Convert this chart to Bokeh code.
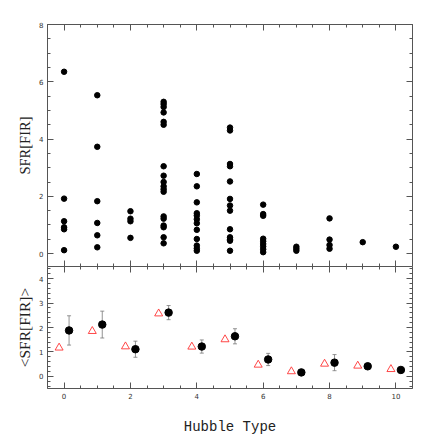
from bokeh.plotting import figure
from bokeh.layouts import column
from bokeh.models import LinearAxis, ColumnDataSource, Whisker, TeeHead, FixedTicker, Range1d
from bokeh.transform import dodge
from bokeh.embed import file_html
from bokeh.resources import INLINE

# ---- top panel data: SFR[FIR] of individual galaxies per Hubble type ----
sfr_type0 = [6.35, 1.92, 1.13, 0.92, 0.85, 0.12]
sfr_type1 = [5.53, 3.73, 1.83, 1.07, 0.64, 0.22]
sfr_type2 = [1.48, 1.22, 1.13, 0.55]
sfr_type3 = [5.30, 5.22, 5.12, 4.93, 4.60, 4.50, 3.05, 2.72, 2.50, 2.35, 2.25, 2.16,
             1.30, 1.22, 0.98, 0.92, 0.57, 0.36]
sfr_type4 = [2.78, 2.35, 1.79, 1.41, 1.33, 1.20, 1.06, 0.83, 0.51, 0.28, 0.18, 0.10]
sfr_type5 = [4.40, 4.30, 3.13, 3.05, 2.52, 1.91, 1.68, 1.50, 0.85, 0.57, 0.50, 0.45, 0.10]
sfr_type6 = [1.71, 1.38, 1.32, 0.52, 0.43, 0.34, 0.25, 0.15, 0.05]
sfr_type7 = [0.24, 0.17, 0.10]
sfr_type8 = [1.23, 0.49, 0.30, 0.17]
sfr_type9 = [0.40]
sfr_type10 = [0.24]

# ---- bottom panel data: mean SFR per type, its error, and model values ----
hubble_types = [0, 1, 2, 3, 4, 5, 6, 7, 8, 9, 10]
mean_sfr = [1.88, 2.12, 1.11, 2.61, 1.22, 1.64, 0.69, 0.16, 0.56, 0.41, 0.26]
mean_err = [0.60, 0.55, 0.33, 0.29, 0.27, 0.31, 0.25, 0.08, 0.33, 0.08, 0.06]
model_sfr = [1.17, 1.85, 1.22, 2.57, 1.21, 1.51, 0.47, 0.20, 0.51, 0.43, 0.29]

groups = [sfr_type0, sfr_type1, sfr_type2, sfr_type3, sfr_type4, sfr_type5,
          sfr_type6, sfr_type7, sfr_type8, sfr_type9, sfr_type10]
xs, ys = [], []
for t, vals in zip(hubble_types, groups):
    xs += [t] * len(vals)
    ys += vals

AX = "#555555"
TICK_FONT = "DejaVu Sans"


def style_axis(ax, labels=True):
    ax.axis_line_color = AX
    ax.major_tick_line_color = AX
    ax.minor_tick_line_color = AX
    ax.major_tick_in = 6
    ax.major_tick_out = 0
    ax.minor_tick_in = 3
    ax.minor_tick_out = 0
    ax.major_label_text_font = TICK_FONT
    if labels:
        ax.major_label_text_color = "#333333"
        ax.major_label_text_font_size = "7px"
        ax.major_label_standoff = 4
    else:
        ax.major_label_text_color = None
        ax.major_label_text_alpha = 0
        ax.major_label_text_font_size = "0px"
        ax.major_label_standoff = 0
    ax.axis_label_text_font_style = "normal"
    ax.axis_label_text_color = "#222222"


def add_axes(p, xmaj, xmin, ymaj, ymin, xlabel=None, ylabel=None, ylabel_size="15px",
             xlabels=False):
    for loc in ("left", "right"):
        a = LinearAxis(ticker=FixedTicker(ticks=ymaj, minor_ticks=ymin))
        style_axis(a, labels=(loc == "left"))
        if loc == "left" and ylabel:
            a.axis_label = ylabel
            a.axis_label_text_font = "Liberation Serif"
            a.axis_label_text_font_size = ylabel_size
            a.axis_label_standoff = 3
        p.add_layout(a, loc)
    for loc in ("below", "above"):
        a = LinearAxis(ticker=FixedTicker(ticks=xmaj, minor_ticks=xmin))
        style_axis(a, labels=(loc == "below" and xlabels))
        if loc == "below" and xlabel:
            a.axis_label = xlabel
            a.axis_label_text_font = "Liberation Mono"
            a.axis_label_text_font_size = "14px"
            a.axis_label_standoff = 17
        p.add_layout(a, loc)


x_major = [0, 2, 4, 6, 8, 10]
x_minor = [i * 0.5 for i in range(-1, 22)]

p1 = figure(frame_width=365, frame_height=242, x_range=Range1d(-0.5, 10.5),
            y_range=Range1d(-0.45, 8), output_backend="svg", toolbar_location=None,
            x_axis_location=None, y_axis_location=None,
            min_border_left=47, min_border_right=16, min_border_top=24, min_border_bottom=0)
p1.grid.visible = False
p1.outline_line_color = None
add_axes(p1, x_major, x_minor, [0, 2, 4, 6, 8], [i * 0.5 for i in range(-1, 17)],
         ylabel="SFR[FIR]", ylabel_size="14.5px")
p1.scatter(xs, ys, size=5.5, color="black")

src = ColumnDataSource(dict(t=hubble_types, m=mean_sfr,
                            lo=[m - e for m, e in zip(mean_sfr, mean_err)],
                            hi=[m + e for m, e in zip(mean_sfr, mean_err)],
                            mod=model_sfr))

p2 = figure(frame_width=365, frame_height=122, x_range=Range1d(-0.5, 10.5),
            y_range=Range1d(-0.5, 4.5), output_backend="svg", toolbar_location=None,
            x_axis_location=None, y_axis_location=None,
            min_border_left=47, min_border_right=16, min_border_top=0, min_border_bottom=46)
p2.grid.visible = False
p2.outline_line_color = None
add_axes(p2, x_major, x_minor, [0, 1, 2, 3, 4], [i * 0.2 for i in range(-3, 24)],
         xlabel="Hubble Type", ylabel="<SFR[FIR]>", ylabel_size="15.5px", xlabels=True)
w = Whisker(source=src, base=dodge("t", 0.15), lower="lo", upper="hi",
            line_color="#777777", line_width=0.8,
            upper_head=TeeHead(size=4, line_color="#777777", line_width=0.8),
            lower_head=TeeHead(size=4, line_color="#777777", line_width=0.8))
p2.add_layout(w)
p2.scatter(x=dodge("t", 0.15), y="m", source=src, size=7.5, color="black")
p2.scatter(x=dodge("t", -0.15), y="mod", source=src, marker="triangle", size=8,
           fill_color=None, line_color="#ff3333", line_width=0.9)

layout = column(p1, p2, spacing=0)
open("out.html", "w").write(file_html(layout, INLINE))
